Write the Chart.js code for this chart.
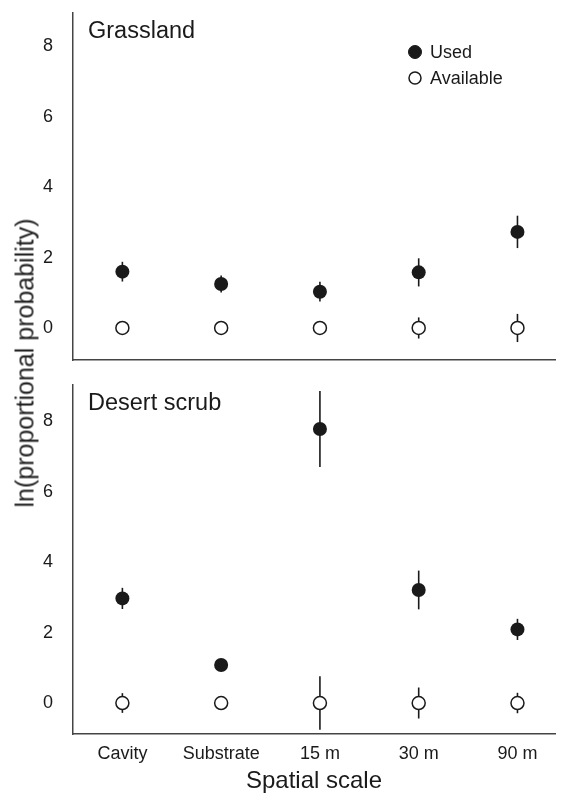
<!DOCTYPE html>
<html><head><meta charset="utf-8">
<script src="https://cdn.jsdelivr.net/npm/chart.js@4"></script>
<style>
html,body{margin:0;padding:0;background:#fff;width:563px;height:794px;overflow:hidden}
.box{position:absolute;left:0;width:563px}
#ytitle{position:absolute;left:25px;top:363px;transform:translate(-50%,-50%) rotate(-90deg);font:25px "Liberation Sans",Arial,sans-serif;color:#222;white-space:nowrap}
</style></head><body>
<div class="box" style="top:0;height:372px"><canvas id="c1"></canvas></div>
<div class="box" style="top:372px;height:422px"><canvas id="c2"></canvas></div>
<div id="ytitle">ln(proportional probability)</div>
<script>
const categories = ['Cavity', 'Substrate', '15 m', '30 m', '90 m'];
const yTicks = [0, 2, 4, 6, 8];
const grassUsed = [1.60, 1.25, 1.03, 1.58, 2.73];
const grassUsedErr = [0.28, 0.24, 0.28, 0.40, 0.46];
const grassAvail = [0, 0, 0, 0, 0];
const grassAvailErr = [0.15, 0.20, 0.15, 0.30, 0.40];
const desertUsed = [2.97, 1.08, 7.78, 3.21, 2.09];
const desertUsedErr = [0.30, 0.10, 1.08, 0.55, 0.30];
const desertAvail = [0, 0, 0, 0, 0];
const desertAvailErr = [0.28, 0.10, 0.76, 0.44, 0.29];

const FONT = '"Liberation Sans", Arial, sans-serif';
const INK = '#1a1a1a';

const errPlugin = {
  id: 'errbars',
  beforeDatasetsDraw(chart) {
    const { ctx, scales: { x, y } } = chart;
    ctx.save();
    ctx.strokeStyle = INK; ctx.lineWidth = 1.6;
    chart.data.datasets.forEach(ds => {
      ds.data.forEach((p, i) => {
        const e = ds.errors[i];
        const px = x.getPixelForValue(p.x);
        ctx.beginPath();
        ctx.moveTo(px, y.getPixelForValue(p.y - e));
        ctx.lineTo(px, y.getPixelForValue(p.y + e));
        ctx.stroke();
      });
    });
    ctx.restore();
  }
};

const panelLabelPlugin = {
  id: 'panelLabel',
  afterDraw(chart, args, opts) {
    const { ctx, chartArea } = chart;
    ctx.save();
    ctx.font = '23.5px ' + FONT; ctx.fillStyle = INK;
    ctx.textAlign = 'left'; ctx.textBaseline = 'middle';
    ctx.fillText(opts.text, chartArea.left + 15, chartArea.top + 19);
    ctx.restore();
  }
};

const legendPlugin = {
  id: 'innerLegend',
  afterDraw(chart, args, opts) {
    if (!opts.show) return;
    const { ctx } = chart;
    const items = [chart.data.datasets[1], chart.data.datasets[0]];
    ctx.save();
    ctx.font = '18px ' + FONT; ctx.textBaseline = 'middle'; ctx.textAlign = 'left';
    items.forEach((ds, k) => {
      const cy = 52 + k * 26, cx = 415;
      ctx.beginPath();
      ctx.arc(cx, cy, ds.pointRadius - 0.5, 0, Math.PI * 2);
      ctx.fillStyle = ds.pointBackgroundColor; ctx.fill();
      ctx.lineWidth = ds.pointBorderWidth || 1; ctx.strokeStyle = INK; ctx.stroke();
      ctx.fillStyle = INK;
      ctx.fillText(ds.label, 430, cy + 1);
    });
    ctx.restore();
  }
};

function zeroPad(s) { s.paddingTop = 0; s.paddingBottom = 0; s.paddingLeft = 0; s.paddingRight = 0; }

function makeChart(id, used, usedErr, avail, availErr, o) {
  return new Chart(document.getElementById(id), {
    type: 'scatter',
    data: {
      datasets: [
        { label: 'Available', data: avail.map((v, i) => ({ x: i, y: v })), errors: availErr,
          pointRadius: 6.5, pointHoverRadius: 6.5, pointBackgroundColor: '#fff',
          pointBorderColor: INK, pointBorderWidth: 1.5 },
        { label: 'Used', data: used.map((v, i) => ({ x: i, y: v })), errors: usedErr,
          pointRadius: 7, pointHoverRadius: 7, pointBackgroundColor: INK,
          pointBorderColor: INK, pointBorderWidth: 0 }
      ]
    },
    options: {
      responsive: true, maintainAspectRatio: false, animation: false, events: [],
      layout: { padding: { left: 0, right: -2, top: 13, bottom: 0 } },
      plugins: {
        legend: { display: false }, tooltip: { enabled: false },
        panelLabel: { text: o.label },
        innerLegend: { show: o.legend }
      },
      scales: {
        x: {
          type: 'linear', min: -0.5, max: 4.38,
          afterBuildTicks: s => { s.ticks = categories.map((c, i) => ({ value: i })); },
          ticks: { display: o.showX, callback: v => categories[v], autoSkip: false, maxRotation: 0,
                   font: { family: FONT, size: 18 }, color: INK, padding: 1 },
          grid: { display: false },
          border: { display: true, color: '#444', width: 1.5 },
          title: { display: o.showX, text: 'Spatial scale', color: INK,
                   font: { family: FONT, size: 24 }, padding: { top: 0, bottom: -2 } },
          afterFit: s => { s.height = o.xHeight; zeroPad(s); }
        },
        y: {
          min: o.ymin, max: o.ymax,
          afterBuildTicks: s => { s.ticks = yTicks.map(v => ({ value: v })); },
          ticks: { font: { family: FONT, size: 18 }, color: INK, padding: 12 },
          grid: { display: false },
          border: { display: true, color: '#444', width: 1.5 },
          afterFit: s => { s.width = 73; zeroPad(s); }
        }
      }
    },
    plugins: [errPlugin, panelLabelPlugin, legendPlugin]
  });
}

makeChart('c1', grassUsed, grassUsedErr, grassAvail, grassAvailErr,
  { label: 'Grassland', legend: true, showX: false, xHeight: 12, ymin: -0.91, ymax: 8.95 });
makeChart('c2', desertUsed, desertUsedErr, desertAvail, desertAvailErr,
  { label: 'Desert scrub', legend: false, showX: true, xHeight: 60, ymin: -0.88, ymax: 9.03 });
</script>
</body></html>
